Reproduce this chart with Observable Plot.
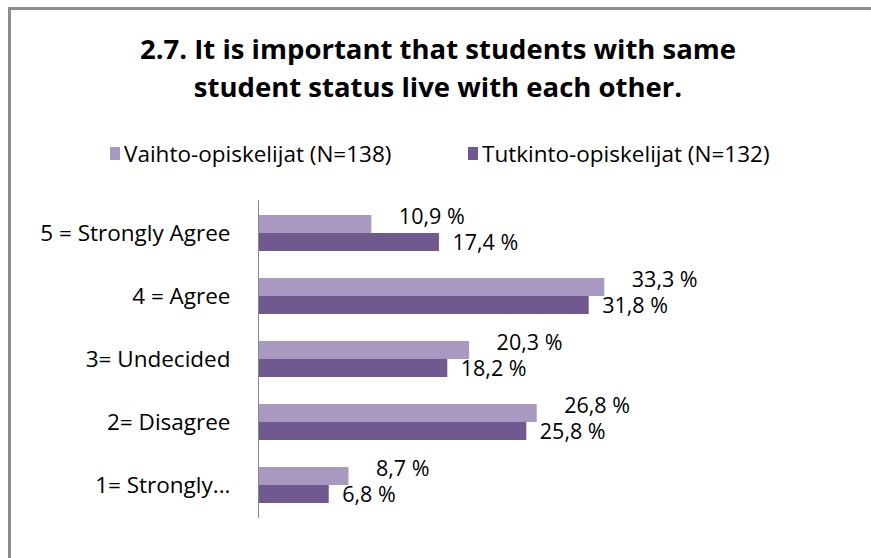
<!DOCTYPE html>
<html>
<head>
<meta charset="utf-8">
<script src="https://cdn.jsdelivr.net/npm/d3@7"></script>
<script src="https://cdn.jsdelivr.net/npm/@observablehq/plot@0.6"></script>
<style>
  html, body { margin: 0; padding: 0; background: #fff; width: 871px; height: 558px; overflow: hidden; }
  body { position: relative; font-family: "Open Sans", "Noto Sans", sans-serif; color: #000; }
  #frame { position: absolute; left: 8px; top: 7px; width: 900px; height: 600px; border-left: 3px solid #8c8c8c; border-top: 3px solid #8c8c8c; }
  #title { position: absolute; left: 0; width: 876px; top: 30px; text-align: center; font-size: 27.5px; font-weight: bold; line-height: 38px; }
  #legend { position: absolute; top: 139px; left: 0; width: 871px; height: 28px; font-size: 22.5px; }
  .item { position: absolute; top: 0; display: flex; align-items: center; height: 28px; }
  .sw { width: 10px; height: 13px; margin-right: 4px; }
  #chart { position: absolute; left: 0; top: 190px; }
</style>
</head>
<body>
<div id="frame"></div>
<div id="title">2.7. It is important that students with same<br>student status live with each other.</div>
<div id="legend"></div>
<div id="chart"></div>
<script>
const categories = ["5 = Strongly Agree", "4 = Agree", "3= Undecided", "2= Disagree", "1= Strongly..."];
const seriesNames = ["Vaihto-opiskelijat (N=138)", "Tutkinto-opiskelijat (N=132)"];
const vaihto = [10.9, 33.3, 20.3, 26.8, 8.7];
const tutkinto = [17.4, 31.8, 18.2, 25.8, 6.8];
const colors = ["#a899c0", "#6f598f"];

const rowsA = categories.map((c, i) => ({category: c, value: vaihto[i]}));
const rowsB = categories.map((c, i) => ({category: c, value: tutkinto[i]}));
const fmt = v => v.toFixed(1).replace(".", ",") + " %";

// legend
const legend = document.getElementById("legend");
const legendX = [110, 468];
seriesNames.forEach((name, i) => {
  const it = document.createElement("div");
  it.className = "item";
  it.style.left = legendX[i] + "px";
  it.innerHTML = `<span class="sw" style="background:${colors[i]}"></span><span>${name}</span>`;
  legend.appendChild(it);
});

const half = 18;
const fs = 22.5;
const fl = 21.5;
const chart = Plot.plot({
  width: 871,
  height: 340,
  marginLeft: 258,
  marginRight: 249,
  marginTop: 10,
  marginBottom: 12,
  style: {fontFamily: '"Open Sans", "Noto Sans", sans-serif', fontSize: fs + "px", color: "#000", background: "transparent", overflow: "visible"},
  x: {domain: [0, 35], axis: null},
  y: {domain: categories, paddingInner: 0.434, paddingOuter: 0.217, axis: null, label: null},
  marks: [
    Plot.barX(rowsA, {y: "category", x: "value", fill: colors[0], insetBottom: half}),
    Plot.barX(rowsB, {y: "category", x: "value", fill: colors[1], insetTop: half}),
    Plot.ruleX([0], {stroke: "#888", strokeWidth: 1}),
    Plot.axisY({tickSize: 0, tickPadding: 28, fontSize: fs, textAnchor: "end", label: null}),
    Plot.text(rowsA, {y: "category", x: "value", text: d => fmt(d.value), textAnchor: "start", dx: 27, dy: -16, fontSize: fl, fill: "#000"}),
    Plot.text(rowsB, {y: "category", x: "value", text: d => fmt(d.value), textAnchor: "start", dx: 13, dy: 10, fontSize: fl, fill: "#000"})
  ]
});
document.getElementById("chart").appendChild(chart);
</script>
</body>
</html>
